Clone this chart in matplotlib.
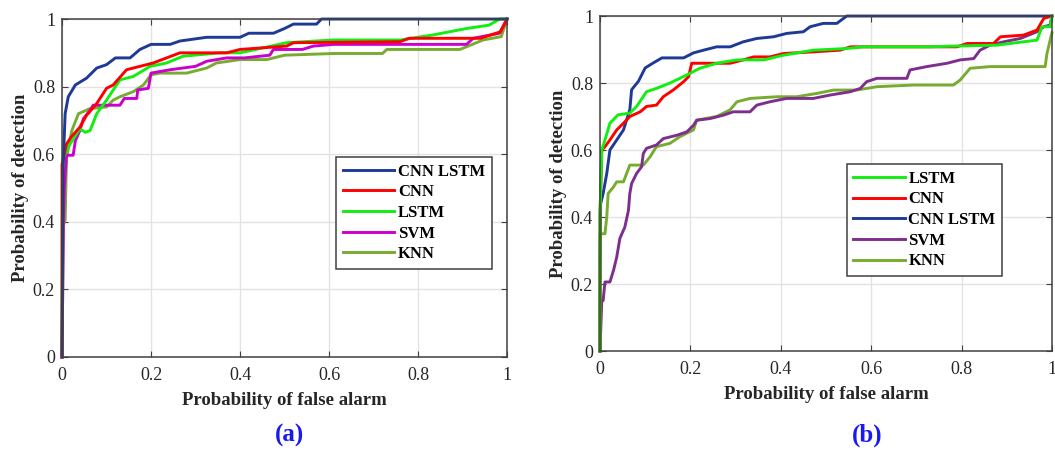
import matplotlib
matplotlib.use("Agg")
import matplotlib.pyplot as plt

plt.rcParams['font.family'] = ['Liberation Serif', 'DejaVu Serif']

# ---- panel (a) ----
a_cnnlstm_fpr = [0, 0.002, 0.007, 0.014, 0.03, 0.055, 0.078, 0.10, 0.12, 0.153, 0.175, 0.20, 0.243, 0.265,
                 0.325, 0.40, 0.42, 0.475, 0.50, 0.52, 0.572, 0.583, 1.0]
a_cnnlstm_tpr = [0, 0.55, 0.72, 0.77, 0.805, 0.825, 0.855, 0.865, 0.885, 0.885, 0.91, 0.925, 0.925, 0.935,
                 0.946, 0.946, 0.958, 0.958, 0.972, 0.985, 0.985, 1.0, 1.0]

a_cnn_fpr = [0, 0.0, 0.01, 0.02, 0.04, 0.055, 0.078, 0.10, 0.115, 0.145, 0.175, 0.205, 0.235, 0.265, 0.37,
             0.40, 0.505, 0.52, 0.76, 0.78, 0.94, 0.985, 1.0]
a_cnn_tpr = [0, 0.57, 0.63, 0.65, 0.68, 0.715, 0.75, 0.795, 0.805, 0.85, 0.86, 0.87, 0.885, 0.90, 0.90,
             0.91, 0.92, 0.93, 0.933, 0.943, 0.943, 0.962, 1.0]

a_lstm_fpr = [0, 0.001, 0.003, 0.018, 0.04, 0.052, 0.063, 0.078, 0.10, 0.13, 0.16, 0.198, 0.235, 0.272,
              0.355, 0.40, 0.505, 0.61, 0.76, 0.834, 0.909, 0.96, 0.983, 1.0]
a_lstm_tpr = [0, 0.54, 0.59, 0.63, 0.675, 0.665, 0.67, 0.72, 0.76, 0.82, 0.83, 0.86, 0.87, 0.89,
              0.90, 0.90, 0.93, 0.938, 0.938, 0.953, 0.972, 0.982, 1.0, 1.0]

a_svm_fpr = [0, 0.003, 0.005, 0.01, 0.025, 0.03, 0.04, 0.048, 0.063, 0.07, 0.13, 0.14, 0.168, 0.17, 0.194,
             0.20, 0.243, 0.30, 0.325, 0.37, 0.41, 0.467, 0.475, 0.54, 0.565, 0.61, 0.909, 0.924, 0.983, 1.0]
a_svm_tpr = [0, 0.40, 0.50, 0.597, 0.597, 0.64, 0.67, 0.705, 0.73, 0.745, 0.745, 0.765, 0.765, 0.79, 0.795,
             0.84, 0.85, 0.86, 0.875, 0.885, 0.885, 0.893, 0.91, 0.91, 0.92, 0.925, 0.925, 0.943, 0.958, 1.0]

a_knn_fpr = [0, 0.003, 0.007, 0.01, 0.022, 0.037, 0.063, 0.10, 0.115, 0.13, 0.16, 0.183, 0.20, 0.22, 0.28,
             0.325, 0.347, 0.40, 0.46, 0.50, 0.61, 0.72, 0.73, 0.894, 0.909, 0.946, 0.987, 1.0]
a_knn_tpr = [0, 0.39, 0.405, 0.59, 0.67, 0.72, 0.735, 0.74, 0.76, 0.77, 0.785, 0.805, 0.835, 0.84, 0.84,
             0.855, 0.87, 0.88, 0.88, 0.893, 0.898, 0.898, 0.91, 0.91, 0.918, 0.938, 0.948, 1.0]

# ---- panel (b) ----
b_lstm_fpr = [0, 0.0, 0.004, 0.011, 0.022, 0.04, 0.066, 0.081, 0.103, 0.125, 0.155, 0.192, 0.221, 0.258,
              0.303, 0.362, 0.406, 0.472, 0.546, 0.583, 0.73, 0.775, 0.878, 0.937, 0.967, 0.978, 0.996, 1.0]
b_lstm_tpr = [0, 0.41, 0.60, 0.63, 0.68, 0.705, 0.71, 0.73, 0.774, 0.784, 0.80, 0.824, 0.844, 0.859,
              0.869, 0.869, 0.883, 0.898, 0.903, 0.908, 0.908, 0.91, 0.913, 0.923, 0.928, 0.968, 0.968, 1.0]

b_cnn_fpr = [0, 0.0, 0.004, 0.011, 0.022, 0.037, 0.052, 0.066, 0.089, 0.103, 0.125, 0.14, 0.162, 0.185,
             0.196, 0.203, 0.244, 0.288, 0.317, 0.34, 0.376, 0.406, 0.472, 0.531, 0.554, 0.79, 0.812, 0.871,
             0.886, 0.937, 0.967, 0.982, 1.0]
b_cnn_tpr = [0, 0.40, 0.60, 0.61, 0.63, 0.66, 0.68, 0.70, 0.714, 0.73, 0.734, 0.759, 0.779, 0.804,
             0.819, 0.859, 0.859, 0.859, 0.869, 0.878, 0.878, 0.888, 0.893, 0.898, 0.908, 0.908, 0.918, 0.918,
             0.938, 0.943, 0.958, 0.993, 1.0]

b_cnnlstm_fpr = [0, 0.0, 0.0015, 0.007, 0.015, 0.022, 0.037, 0.052, 0.066, 0.07, 0.085, 0.10, 0.118, 0.137,
                 0.185, 0.207, 0.229, 0.258, 0.288, 0.317, 0.347, 0.384, 0.413, 0.45, 0.465, 0.494, 0.524,
                 0.546, 1.0]
b_cnnlstm_tpr = [0, 0.15, 0.44, 0.47, 0.53, 0.60, 0.63, 0.66, 0.72, 0.78, 0.805, 0.845, 0.86, 0.875,
                 0.875, 0.89, 0.898, 0.908, 0.908, 0.923, 0.933, 0.938, 0.948, 0.953, 0.968, 0.978, 0.978,
                 1.0, 1.0]

b_svm_fpr = [0, 0.004, 0.007, 0.011, 0.022, 0.03, 0.037, 0.044, 0.055, 0.063, 0.066, 0.07, 0.081, 0.092,
             0.096, 0.103, 0.125, 0.14, 0.17, 0.192, 0.207, 0.214, 0.244, 0.273, 0.295, 0.332, 0.347, 0.376,
             0.413, 0.472, 0.509, 0.554, 0.576, 0.59, 0.613, 0.679, 0.686, 0.723, 0.768, 0.797, 0.827, 0.841,
             0.863, 0.893, 0.93, 0.967, 0.982, 0.996, 1.0]
b_svm_tpr = [0, 0.15, 0.151, 0.206, 0.206, 0.241, 0.28, 0.336, 0.37, 0.42, 0.47, 0.50, 0.53, 0.55,
             0.59, 0.605, 0.615, 0.634, 0.644, 0.654, 0.674, 0.689, 0.694, 0.704, 0.714, 0.714, 0.734, 0.744,
             0.754, 0.754, 0.764, 0.774, 0.784, 0.804, 0.814, 0.814, 0.839, 0.849, 0.859, 0.869, 0.873, 0.898,
             0.913, 0.923, 0.933, 0.953, 0.968, 0.973, 1.0]

b_knn_fpr = [0, 0.0, 0.011, 0.015, 0.018, 0.03, 0.037, 0.052, 0.059, 0.066, 0.096, 0.111, 0.125, 0.155,
             0.177, 0.207, 0.214, 0.258, 0.288, 0.303, 0.332, 0.391, 0.435, 0.48, 0.517, 0.568, 0.613, 0.694,
             0.782, 0.797, 0.819, 0.863, 0.985, 0.989, 0.996, 1.0]
b_knn_tpr = [0, 0.35, 0.35, 0.40, 0.47, 0.49, 0.505, 0.505, 0.53, 0.555, 0.555, 0.58, 0.61, 0.62,
             0.64, 0.66, 0.689, 0.70, 0.72, 0.744, 0.754, 0.759, 0.759, 0.769, 0.779, 0.779, 0.789, 0.794,
             0.794, 0.809, 0.844, 0.849, 0.849, 0.888, 0.928, 0.95]

ticks = [0, 0.2, 0.4, 0.6, 0.8, 1]
tick_labels = ['0', '0.2', '0.4', '0.6', '0.8', '1']

BLUE = '#1e3a96'
RED = '#ff0000'
GREEN = '#11ee11'
MAGENTA = '#cc00cc'
PURPLE = '#7e2f8e'
OLIVE = '#77ac30'
TXT = '#262626'

fig = plt.figure(figsize=(10.55, 4.5), dpi=100)
ax_a = fig.add_axes([0.0588, 0.2067, 0.4218, 0.751])
ax_b = fig.add_axes([0.5687, 0.22, 0.4284, 0.7444])


def style_axes(ax):
    ax.set_xlim(0, 1)
    ax.set_ylim(0, 1)
    ax.set_xticks(ticks)
    ax.set_yticks(ticks)
    ax.set_xticklabels(tick_labels)
    ax.set_yticklabels(tick_labels)
    ax.grid(True, color='#e3e3e3', lw=1)
    ax.set_axisbelow(True)
    ax.tick_params(direction='in', length=4, width=0.8, top=True, right=True,
                   colors='#404040', labelcolor=TXT, labelsize=13)
    ax.tick_params(axis='x', pad=7)
    ax.tick_params(axis='y', pad=5)
    for sp in ax.spines.values():
        sp.set_color('#404040')
        sp.set_linewidth(1.1)
    ax.set_xlabel('Probability of false alarm', fontsize=13.5, fontweight='bold', color=TXT, labelpad=6)
    ax.set_ylabel('Probability of detection', fontsize=13.5, fontweight='bold', color=TXT, labelpad=3)


def add_legend(ax, order, anchor):
    h, l = ax.get_legend_handles_labels()
    hd = dict(zip(l, h))
    leg = ax.legend([hd[k] for k in order], order, loc='upper left', bbox_to_anchor=anchor,
                    fancybox=False, framealpha=1, edgecolor='#404040', handlelength=3.1,
                    labelspacing=0.28, borderpad=0.4, handletextpad=0.2, borderaxespad=0,
                    prop={'size': 12, 'weight': 'bold'})
    leg.get_frame().set_linewidth(1.1)


lw = 2.1
ax_a.plot(a_knn_fpr, a_knn_tpr, color=OLIVE, lw=lw, label='KNN', clip_on=False)
ax_a.plot(a_svm_fpr, a_svm_tpr, color=MAGENTA, lw=lw, label='SVM', clip_on=False)
ax_a.plot(a_lstm_fpr, a_lstm_tpr, color=GREEN, lw=lw, label='LSTM', clip_on=False)
ax_a.plot(a_cnn_fpr, a_cnn_tpr, color=RED, lw=lw, label='CNN', clip_on=False)
ax_a.plot(a_cnnlstm_fpr, a_cnnlstm_tpr, color=BLUE, lw=lw, label='CNN LSTM', clip_on=False)
style_axes(ax_a)
add_legend(ax_a, ['CNN LSTM', 'CNN', 'LSTM', 'SVM', 'KNN'], (0.616, 0.592))

ax_b.plot(b_knn_fpr, b_knn_tpr, color=OLIVE, lw=lw, label='KNN', clip_on=False)
ax_b.plot(b_svm_fpr, b_svm_tpr, color=PURPLE, lw=lw, label='SVM', clip_on=False)
ax_b.plot(b_cnnlstm_fpr, b_cnnlstm_tpr, color=BLUE, lw=lw, label='CNN LSTM', clip_on=False)
ax_b.plot(b_cnn_fpr, b_cnn_tpr, color=RED, lw=lw, label='CNN', clip_on=False)
ax_b.plot(b_lstm_fpr, b_lstm_tpr, color=GREEN, lw=lw, label='LSTM', clip_on=False)
style_axes(ax_b)
add_legend(ax_b, ['LSTM', 'CNN', 'CNN LSTM', 'SVM', 'KNN'], (0.546, 0.558))

fig.text(290 / 1055, 1 - 435 / 450, '(a)', color='#1a1aee', fontsize=18, fontweight='bold',
         ha='center', va='center')
fig.text(867 / 1055, 1 - 435 / 450, '(b)', color='#1a1aee', fontsize=18, fontweight='bold',
         ha='center', va='center')

fig.savefig('out.png', dpi=100)
